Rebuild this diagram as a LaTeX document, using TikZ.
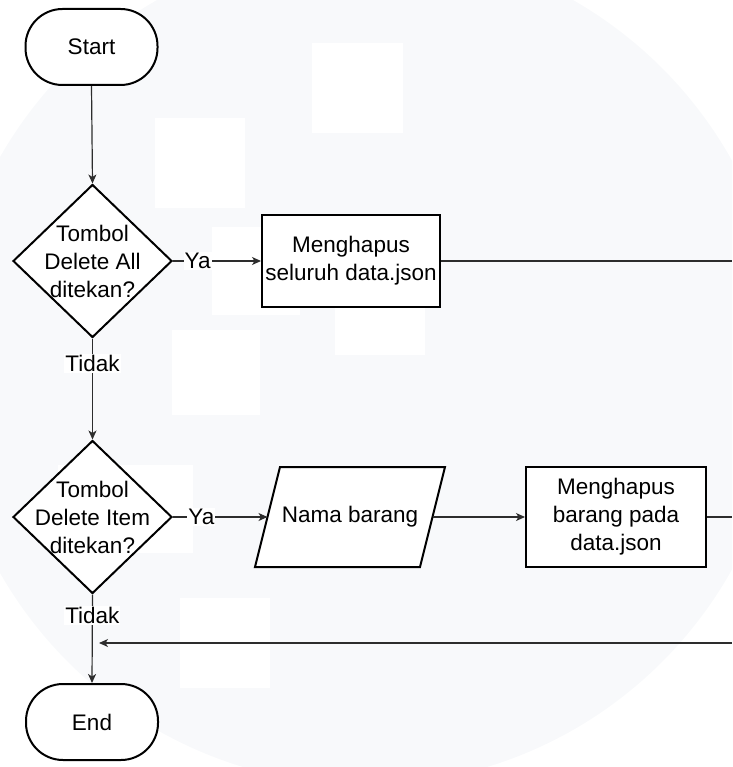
\documentclass[tikz,border=0pt]{standalone}
\usepackage{fontspec}
\setmainfont{Liberation Sans}
\usetikzlibrary{shapes.geometric,arrows.meta}
\definecolor{wmark}{RGB}{248,249,251}
\definecolor{linegray}{RGB}{45,45,45}
\begin{document}
\begin{tikzpicture}[x=1pt,y=-1pt,
  font=\fontsize{22.5}{28}\selectfont,
  shapeline/.style={draw=black, line width=2pt, fill=white},
  terminal/.style={shapeline, rectangle, rounded corners=37pt,
    minimum width=132pt, minimum height=76pt},
  decision/.style={shapeline, diamond, inner sep=0pt,
    minimum width=159pt, minimum height=153pt},
  dtext/.style={align=center, inner sep=0pt},
  process/.style={shapeline, rectangle, align=center, inner sep=0pt},
  conn/.style={draw=linegray, line width=1.2pt},
  arr/.style={conn, -{Stealth[length=9pt,width=8pt,inset=2.5pt]}},
  lab/.style={fill=white, inner sep=1pt, text=black}
]
\useasboundingbox (0,0) rectangle (732,767);
\clip (0,0) rectangle (732,767);

% faint background disc with lighter patches
\fill[wmark] (365,365) circle[radius=420pt];
\fill[white] (312,43) rectangle (403,133);
\fill[white] (155,118) rectangle (245,208);
\fill[white] (212,227) rectangle (300,315);
\fill[white] (335,268) rectangle (425,355);
\fill[white] (172,330) rectangle (260,415);
\fill[white] (58,465) rectangle (193,553);
\fill[white] (180,598) rectangle (270,688);

% nodes
\node[terminal] (start) at (91.5,47) {Start};
\node[decision] (d1) at (92.5,261) {};
\node[dtext] (d1t) at (d1.center) {Tombol\\Delete All\\ditekan?};
\node[process, minimum width=178pt, minimum height=92pt] (p1) at (351,261)
  {Menghapus\\seluruh data.json};

\node[decision] (d2) at (92.5,517) {};
\node[dtext] (d2t) at (d2.center) {Tombol\\Delete Item\\ditekan?};

% input parallelogram
\coordinate (inSW) at (255,567);
\coordinate (inNW) at (280,467);
\coordinate (inNE) at (445,467);
\coordinate (inSE) at (420,567);
\coordinate (inW) at (267.5,517);
\coordinate (inE) at (432.5,517);
\draw[shapeline, line join=miter] (inSW) -- (inNW) -- (inNE) -- (inSE) -- cycle;
\node[inner sep=0pt] (in) at (350,517) {Nama barang};

\node[process, minimum width=180pt, minimum height=100pt] (p2) at (616,517)
  {Menghapus\\barang pada\\data.json};

\node[terminal] (end) at (92,722) {End};

% free ends at the right edge and the merge point
\coordinate (r1) at (732,261);
\coordinate (r2) at (732,517);
\coordinate (r3) at (732,643);
\coordinate (m) at (99,643);

% connectors
\draw[arr] (start.south) -- (d1.north);
\draw[arr] (d1.east) -- node[lab, pos=0.28] (ya1) {Ya} (p1.west);
\draw[conn] (p1.east) -- (r1);
\draw[arr] (d1.south) -- node[lab, pos=0.25] (no1) {Tidak} (d2.north);
\draw[arr] (d2.east) -- node[lab, pos=0.3] (ya2) {Ya} (inW);
\draw[arr] (inE) -- (p2.west);
\draw[conn] (p2.east) -- (r2);
\draw[arr] (r3) -- (m);
\draw[arr] (d2.south) -- node[lab, pos=0.24] (no2) {Tidak} (end.north);
\end{tikzpicture}
\end{document}
